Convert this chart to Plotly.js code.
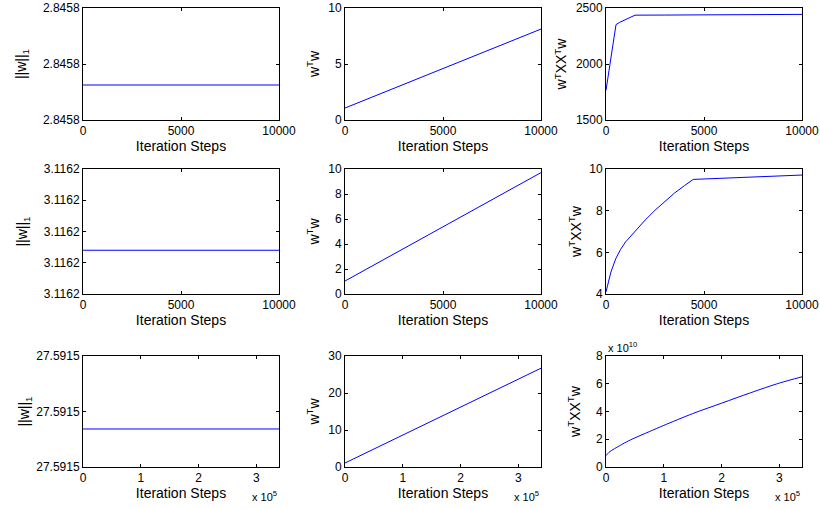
<!DOCTYPE html>
<html>
<head>
<meta charset="utf-8">
<script src="https://cdn.plot.ly/plotly-3.0.1.min.js"></script>
<style>html,body{margin:0;padding:0;background:#fff;}#chart{width:820px;height:509px;}</style>
</head>
<body>
<div id="chart"></div>
<script>
// ---- Data ----
// Row 1: 10000 iteration steps
const r1Iter = [0, 10000];
const r1L1 = [2.845785, 2.845785];
const r1wTw = [1.07, 8.12];
const r1XIter = [0, 510, 700, 1000, 1250, 1480, 3000, 5000, 7500, 10000];
const r1wXXw = [1765, 2352, 2372, 2398, 2420, 2436, 2437, 2439, 2441, 2443];

// Row 2: 10000 iteration steps
const r2Iter = [0, 10000];
const r2L1 = [3.116194, 3.116194];
const r2wTw = [1.04, 9.71];
const r2XIter = [0, 100, 250, 500, 750, 1000, 1500, 2000, 2500, 3000, 3500, 4000, 4450, 10000];
const r2wXXw = [4.1, 4.55, 5.05, 5.7, 6.15, 6.5, 7.05, 7.55, 8.02, 8.45, 8.85, 9.2, 9.5, 9.71];

// Row 3: ~3.39e5 iteration steps
const r3Iter = [0, 339000];
const r3L1 = [27.5914874, 27.5914874];
const r3wTw = [1.08, 26.7];
const r3XIter = [0, 5000, 10000, 20000, 35000, 50000, 75000, 100000, 150000, 200000, 250000, 300000, 339000];
const r3wXXw = [0.82e10, 1.05e10, 1.2e10, 1.45e10, 1.8e10, 2.1e10, 2.55e10, 3.0e10, 3.85e10, 4.6e10, 5.35e10, 6.05e10, 6.5e10];

// Tick values / labels
const xTicks12 = [0, 5000, 10000];
const xTickText12 = ["0", "5000", "10000"];
const xTicks3 = [0, 100000, 200000, 300000];
const xTickText3 = ["0", "1", "2", "3"];
const yTicksL1r1 = [2.84576, 2.8458, 2.84584];
const yTicksL1r2 = [3.11618, 3.11619, 3.1162, 3.11621, 3.11622];
const yTicksL1r3 = [27.59146, 27.5915, 27.59154];
const yTicksXXr3 = [0, 2e10, 4e10, 6e10, 8e10];
const yTickTextXXr3 = ["0", "2", "4", "6", "8"];

const titleL1 = "||w||<sub>1</sub>";
const titleWW = "w<sup>T</sup>w";
const titleXX = "w<sup>T</sup>XX<sup>T</sup>w";
const xTitle = "Iteration Steps";

// ---- Layout geometry ----
const W = 820, H = 509;
const colPx = [[83, 279], [345, 541], [606, 802]];
const rowPx = [[8, 120], [169, 294], [356, 467]];
const xd = c => [colPx[c][0] / W, colPx[c][1] / W];
const yd = r => [1 - rowPx[r][1] / H, 1 - rowPx[r][0] / H];

const font = "Liberation Sans, Arial, Helvetica, sans-serif";
const blue = "#0000ff";

function baseAxis() {
  return {
    showgrid: false, zeroline: false,
    showline: true, linecolor: "#000", linewidth: 1, mirror: "ticks",
    ticks: "inside", ticklen: 3, tickcolor: "#000", tickwidth: 1,
    tickfont: {family: font, size: 12, color: "#000"},
    fixedrange: true
  };
}

const traces = [];
const layout = {
  width: W, height: H,
  margin: {l: 0, r: 0, t: 0, b: 0},
  paper_bgcolor: "#fff", plot_bgcolor: "#fff",
  showlegend: false,
  font: {family: font, color: "#000"},
  annotations: []
};

const panels = [
  {r: 0, c: 0, x: r1Iter, y: r1L1, yr: [2.84576, 2.84584], yt: yTicksL1r1, ytf: ".4f", yTitle: titleL1, ys: 12},
  {r: 0, c: 1, x: r1Iter, y: r1wTw, yr: [0, 10], yt: [0, 5, 10], yTitle: titleWW, ys: 5},
  {r: 0, c: 2, x: r1XIter, y: r1wXXw, yr: [1500, 2500], yt: [1500, 2000, 2500], yTitle: titleXX, ys: 5},
  {r: 1, c: 0, x: r2Iter, y: r2L1, yr: [3.11618, 3.11622], yt: yTicksL1r2, ytf: ".4f", yTitle: titleL1, ys: 12},
  {r: 1, c: 1, x: r2Iter, y: r2wTw, yr: [0, 10], yt: [0, 2, 4, 6, 8, 10], yTitle: titleWW, ys: 5},
  {r: 1, c: 2, x: r2XIter, y: r2wXXw, yr: [4, 10], yt: [4, 6, 8, 10], yTitle: titleXX, ys: 4},
  {r: 2, c: 0, x: r3Iter, y: r3L1, yr: [27.59146, 27.59154], yt: yTicksL1r3, ytf: ".4f", yTitle: titleL1, ys: 3, big: true},
  {r: 2, c: 1, x: r3Iter, y: r3wTw, yr: [0, 30], yt: [0, 10, 20, 30], yTitle: titleWW, ys: 5, big: true},
  {r: 2, c: 2, x: r3XIter, y: r3wXXw, yr: [0, 8e10], yt: yTicksXXr3, ytt: yTickTextXXr3, yTitle: titleXX, ys: 12, big: true, smooth: true}
];

panels.forEach((p, i) => {
  const n = i + 1, s = n === 1 ? "" : n;
  traces.push({
    type: "scatter", mode: "lines",
    x: p.x, y: p.y,
    xaxis: "x" + s, yaxis: "y" + s,
    line: p.smooth ? {color: blue, width: 1, shape: "spline", smoothing: 0.8} : {color: blue, width: 1},
    hoverinfo: "skip"
  });
  const X = baseAxis();
  X.domain = xd(p.c);
  X.anchor = "y" + s;
  if (p.big) {
    X.range = [0, 339000];
    X.tickvals = xTicks3; X.ticktext = xTickText3;
  } else {
    X.range = [0, 10000];
    X.tickvals = xTicks12; X.ticktext = xTickText12;
  }
  X.title = {text: xTitle, font: {family: font, size: 14, color: "#000"}, standoff: 2};
  const Y = baseAxis();
  Y.domain = yd(p.r);
  Y.anchor = "x" + s;
  Y.range = p.yr;
  Y.tickvals = p.yt;
  if (p.ytt) Y.ticktext = p.ytt;
  if (p.ytf) Y.tickformat = p.ytf;
  Y.title = {text: p.yTitle, font: {family: font, size: 14, color: "#000"}, standoff: p.ys};
  layout["xaxis" + s] = X;
  layout["yaxis" + s] = Y;

  if (p.big) {
    layout.annotations.push({
      xref: "paper", yref: "paper",
      x: colPx[p.c][1] / W, y: 1 - 487 / H,
      xanchor: "right", yanchor: "top",
      text: "x 10<sup>5</sup>", showarrow: false,
      font: {family: font, size: 11, color: "#000"}
    });
  }
});

layout.annotations.push({
  xref: "paper", yref: "paper",
  x: colPx[2][0] / W, y: 1 - rowPx[2][0] / H,
  xanchor: "left", yanchor: "bottom",
  text: "x 10<sup>10</sup>", showarrow: false,
  font: {family: font, size: 11, color: "#000"}
});

Plotly.newPlot("chart", traces, layout, {staticPlot: true, displayModeBar: false});
</script>
</body>
</html>
